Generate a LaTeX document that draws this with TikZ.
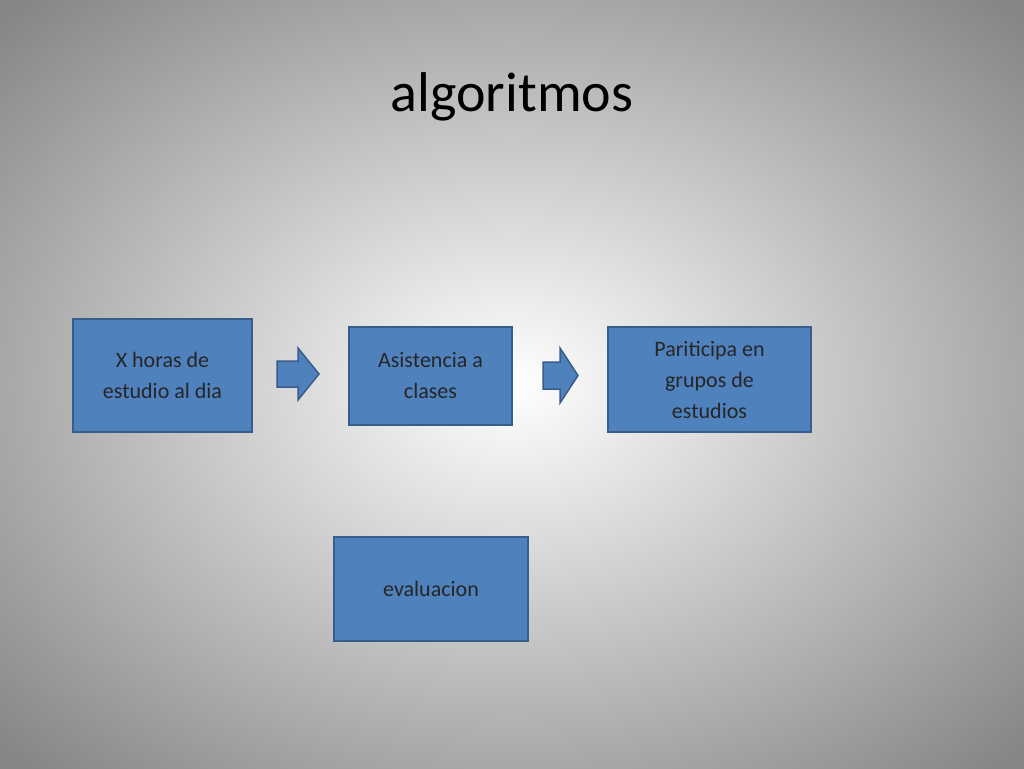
\documentclass[tikz,border=0pt]{standalone}
\usepackage{fontspec}
\setmainfont{Carlito}
\definecolor{boxblue}{HTML}{4F81BD}
\definecolor{boxedge}{HTML}{385D8A}
\begin{document}
\begin{tikzpicture}[x=1pt,y=-1pt,
  box/.style={draw=boxedge,line width=1.5pt,fill=boxblue,align=center,font=\fontsize{22}{31}\selectfont,text=black!85,inner sep=0pt},
  blockarrow/.style={draw=boxedge,line width=1.5pt,fill=boxblue,line join=miter}]
\useasboundingbox (0,0) rectangle (1024,768);
\shade[inner color=white,outer color=black!48] (-200,-150) rectangle (1224,918);
\node (t) at (512,97) {\fontsize{56}{66}\selectfont algoritmos};
\node[box,minimum width=179pt,minimum height=113pt] (a) at (162.5,375.5) {X horas de\\estudio al dia};
\node[box,minimum width=163pt,minimum height=98pt] (b) at (430.5,376) {Asistencia a\\clases};
\node[box,minimum width=203pt,minimum height=105pt] (c) at (709.5,379.5) {Pariticipa en\\grupos de\\estudios};
\node[box,minimum width=194pt,minimum height=104pt] (d) at (431,589) {evaluacion};
\path[blockarrow] (277,361) -- (298,361) -- (298,348) -- (319,374) -- (298,400) -- (298,387) -- (277,387) -- cycle;
\path[blockarrow] (543,362) -- (560,362) -- (560,348) -- (578,375.5) -- (560,403) -- (560,389) -- (543,389) -- cycle;
\end{tikzpicture}
\end{document}
